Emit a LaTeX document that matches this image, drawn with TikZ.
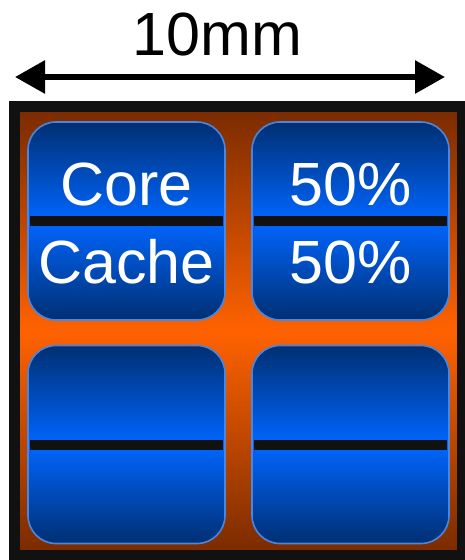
\documentclass[tikz,border=0pt]{standalone}
\usepackage{fontspec}
\setmainfont{Liberation Sans}
\usetikzlibrary{arrows.meta}
\definecolor{dkorange}{HTML}{782A00}
\definecolor{brorange}{HTML}{FF6200}
\definecolor{dkblue}{HTML}{002F72}
\definecolor{brblue}{HTML}{0066FF}
\definecolor{edgeblue}{HTML}{4A86E0}
\definecolor{nearblack}{HTML}{111111}
\tikzset{
  chip/.style={draw=nearblack, line width=11pt, inner sep=0pt, outer sep=0pt, shading=axis, top color=dkorange, bottom color=dkorange, middle color=brorange},
  corebox/.style={draw=edgeblue, line width=1.6pt, rounded corners=28pt, minimum width=197pt, minimum height=198pt, inner sep=0pt, outer sep=0pt, shading=axis, top color=dkblue, bottom color=dkblue, middle color=brblue},
  divider/.style={draw=nearblack, line width=10pt},
  lbl/.style={font=\fontsize{61}{61}\selectfont, text=white, anchor=base, inner sep=0pt},
  dimarrow/.style={line width=6pt, {Triangle[length=30pt,width=32pt]}-{Triangle[length=30pt,width=32pt]}}
}
\begin{document}
\begin{tikzpicture}[x=1pt,y=-1pt]
\useasboundingbox (0,0) rectangle (464,560);
% die
\node[chip, minimum width=448pt, minimum height=449pt, anchor=north west] (die) at (14.5,106.5) {};
% dimension
\coordinate (al) at (15,77);
\coordinate (ar) at (445,77);
\draw[dimarrow] (al) -- (ar);
\node[lbl, text=black] (dim) at (217.5,55) {10mm};
% boxes
\node[corebox] (b1) at (126.5,221) {};
\node[corebox] (b2) at (350.5,221) {};
\node[corebox] (b3) at (126.5,444.5) {};
\node[corebox] (b4) at (350.5,444.5) {};
\foreach \b in {b1,b2,b3,b4}{
  \draw[divider] ([xshift=2pt]\b.west) -- ([xshift=-2pt]\b.east);
}
\node[lbl] (t1) at (126.5,205) {Core};
\node[lbl] (t2) at (126.5,283) {Cache};
\node[lbl] (t3) at (350.5,205) {50\%};
\node[lbl] (t4) at (350.5,283) {50\%};
\end{tikzpicture}
\end{document}
